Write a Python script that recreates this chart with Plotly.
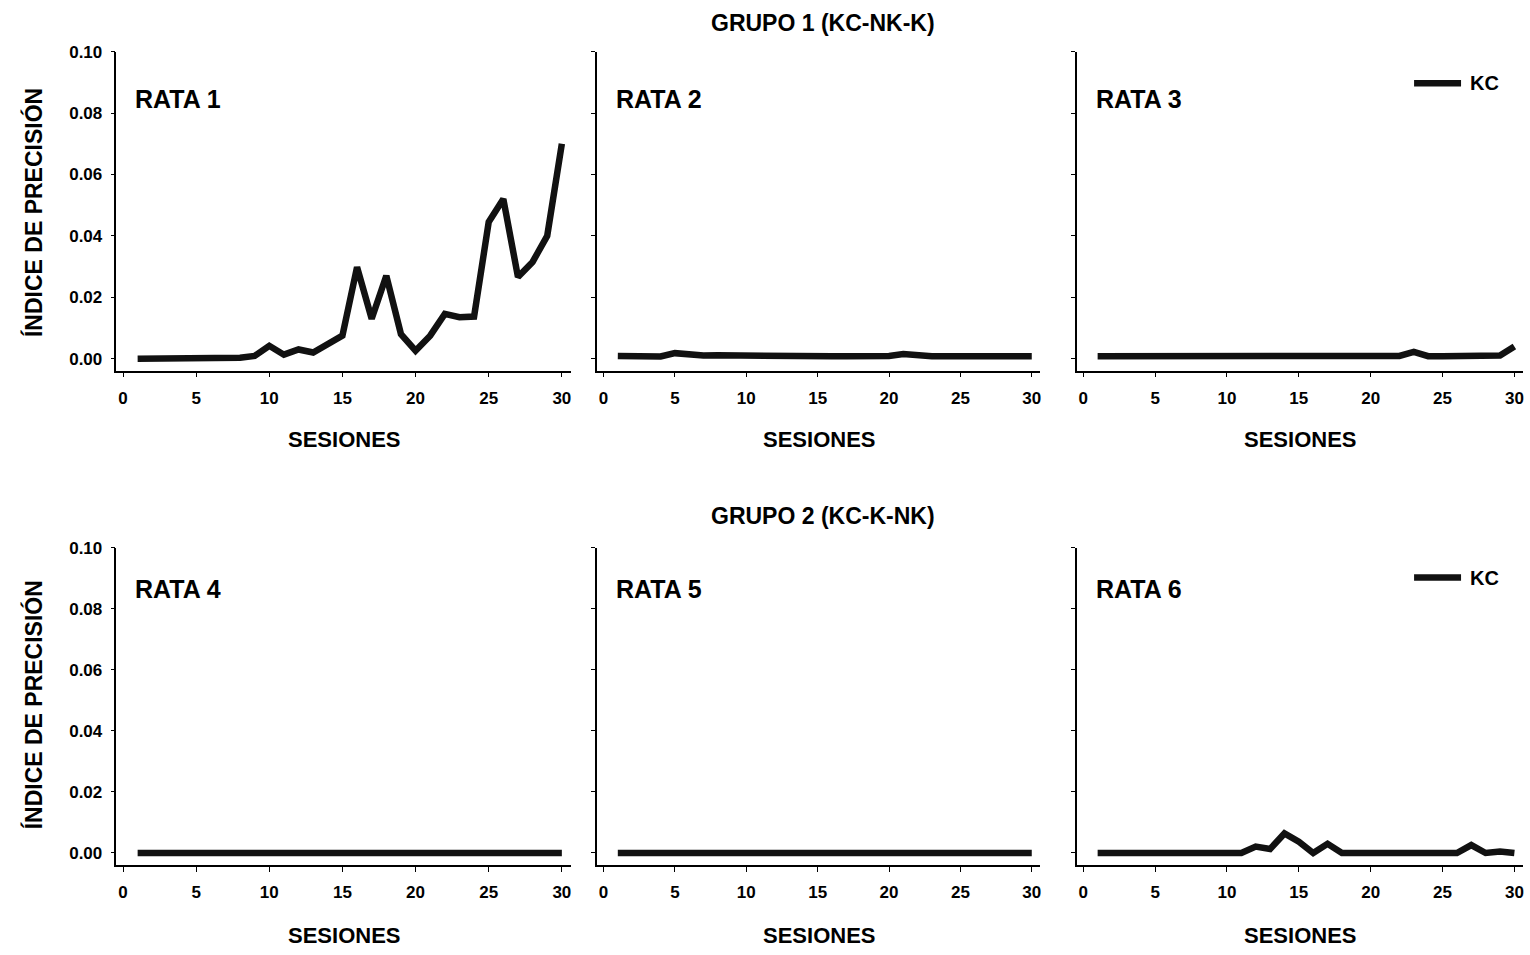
import plotly.graph_objects as go

# Sessions and accuracy index per rat
sesiones = list(range(1, 31))

rata1 = [0.0, 0.0, 0.0, 0.0, 0.0, 0.0, 0.0, 0.0003, 0.0009, 0.0042,
         0.0013, 0.0030, 0.0020, 0.0050, 0.0075, 0.0298, 0.0130, 0.0270, 0.0080, 0.0026,
         0.0075, 0.0146, 0.0135, 0.0137, 0.0445, 0.0520, 0.0266, 0.0315, 0.0400, 0.0700]
rata2 = [0.0009, 0.0009, 0.0008, 0.0007, 0.0018, 0.0012, 0.0010, 0.0011, 0.0010, 0.0009,
         0.0008, 0.0008, 0.0008, 0.0008, 0.0008, 0.0008, 0.0008, 0.0008, 0.0008, 0.0009,
         0.0015, 0.0010, 0.0008, 0.0008, 0.0008, 0.0008, 0.0008, 0.0008, 0.0008, 0.0008]
rata3 = [0.0008, 0.0008, 0.0008, 0.0008, 0.0008, 0.0008, 0.0008, 0.0008, 0.0008, 0.0008,
         0.0008, 0.0008, 0.0008, 0.0008, 0.0008, 0.0008, 0.0008, 0.0009, 0.0009, 0.0011,
         0.0009, 0.0009, 0.0022, 0.0008, 0.0008, 0.0009, 0.0010, 0.0010, 0.0010, 0.0040]
rata4 = [0.0, 0.0, 0.0, 0.0, 0.0, 0.0, 0.0, 0.0, 0.0001, 0.0001,
         0.0001, 0.0001, 0.0, 0.0, 0.0, 0.0001, 0.0, 0.0, 0.0, 0.0,
         0.0, 0.0, 0.0, 0.0, 0.0005, 0.0002, 0.0001, 0.0001, 0.0001, 0.0]
rata5 = [0.0, 0.0, 0.0, 0.0, 0.0, 0.0, 0.0, 0.0, 0.0, 0.0001,
         0.0001, 0.0, 0.0, 0.0, 0.0, 0.0, 0.0, 0.0, 0.0, 0.0,
         0.0, 0.0, 0.0, 0.0, 0.0, 0.0, 0.0, 0.0, 0.0, 0.0]
rata6 = [0.0, 0.0, 0.0, 0.0, 0.0, 0.0, 0.0, 0.0, 0.0, 0.0,
         0.0, 0.0021, 0.0013, 0.0064, 0.0037, 0.0, 0.0030, 0.0, 0.0, 0.0,
         0.0, 0.0, 0.0, 0.0, 0.0, 0.0, 0.0026, 0.0, 0.0005, 0.0]

series = [rata1, rata2, rata3, rata4, rata5, rata6]
rat_names = ["RATA 1", "RATA 2", "RATA 3", "RATA 4", "RATA 5", "RATA 6"]
group_titles = ["GRUPO 1 (KC-NK-K)", "GRUPO 2 (KC-K-NK)"]
x_ticks = [0, 5, 10, 15, 20, 25, 30]
y_ticks = [0.0, 0.02, 0.04, 0.06, 0.08, 0.10]
y_tick_text = ["0.00", "0.02", "0.04", "0.06", "0.08", "0.10"]
legend_name = "KC"
x_title = "SESIONES"
y_title = "ÍNDICE DE PRECISIÓN"

W, H = 1530, 955
FONT = "Liberation Sans, Arial, sans-serif"
LINE = "#111111"
LINE_W = 6.5
Y_MIN = -0.0039

# column pixel extents (left, right)
cols = [(116.5, 571), (597.5, 1041), (1077.5, 1524)]
# row pixel positions of the 0.10 and 0.00 gridlines
rows = [(43, 353), (544, 852)]
# pixel positions of the free texts per row
group_y = [14, 512]
rat_y = [91, 586]
xtitle_y = [435, 935]
ytitle_y = [205, 702]
legend_y = [75, 574]


def py(v):
    return 1 - v / H


fig = go.Figure()
layout = {}
annotations = []
shapes = []

for i, vals in enumerate(series):
    r, c = divmod(i, 3)
    n = i + 1
    xa = "xaxis" if n == 1 else f"xaxis{n}"
    ya = "yaxis" if n == 1 else f"yaxis{n}"
    xref = "x" if n == 1 else f"x{n}"
    yref = "y" if n == 1 else f"y{n}"
    x0, x1 = cols[c]
    top, zero = rows[r]
    bot = zero + (zero - top) * (-Y_MIN) / 0.1
    fig.add_trace(go.Scatter(x=sesiones, y=vals, mode="lines",
                             line=dict(color=LINE, width=LINE_W),
                             xaxis=xref, yaxis=yref, showlegend=False,
                             name=legend_name))
    layout[xa] = dict(domain=[x0 / W, x1 / W], range=[-0.45, 30.6],
                      anchor=yref, tickvals=x_ticks,
                      ticks="outside", ticklen=5, tickwidth=1, tickcolor="black",
                      ticklabelstandoff=6,
                      showline=True, linecolor="black", linewidth=1.5,
                      showgrid=False, zeroline=False,
                      tickfont=dict(family=FONT, size=17, color="black", weight="bold"))
    layout[ya] = dict(domain=[py(bot), py(top)], range=[Y_MIN, 0.1],
                      anchor=xref, tickvals=y_ticks,
                      ticktext=y_tick_text if c == 0 else ["" for _ in y_ticks],
                      ticks="outside", ticklen=4, tickwidth=1, tickcolor="black",
                      ticklabelstandoff=5,
                      showline=True, linecolor="black", linewidth=1.5,
                      showgrid=False, zeroline=False,
                      tickfont=dict(family=FONT, size=17, color="black", weight="bold"))
    # axis titles
    annotations.append(dict(text=x_title, xref="paper", yref="paper",
                            x=(x0 + x1) / 2 / W, y=py(xtitle_y[r]),
                            xanchor="center", yanchor="middle", showarrow=False,
                            font=dict(family=FONT, size=22, color="black", weight="bold")))
    if c == 0:
        annotations.append(dict(text=y_title, xref="paper", yref="paper",
                                x=33 / W, y=py(ytitle_y[r]), textangle=-90,
                                xanchor="center", yanchor="middle", showarrow=False,
                                font=dict(family=FONT, size=23, color="black", weight="bold")))
    annotations.append(dict(text=rat_names[i], xref="paper", yref="paper",
                            x=(x0 + 17) / W, y=py(rat_y[r]),
                            xanchor="left", yanchor="middle", showarrow=False,
                            font=dict(family=FONT, size=25, color="black", weight="bold")))

# group headings
for r, t in enumerate(group_titles):
    annotations.append(dict(text=t, xref="paper", yref="paper",
                            x=824 / W, y=py(group_y[r]),
                            xanchor="center", yanchor="middle", showarrow=False,
                            font=dict(family=FONT, size=23, color="black", weight="bold")))

# legend keys in the right-hand panels
for ly in legend_y:
    shapes.append(dict(type="line", xref="paper", yref="paper",
                       x0=1415 / W, x1=1462 / W, y0=py(ly), y1=py(ly),
                       line=dict(color=LINE, width=LINE_W)))
    annotations.append(dict(text=legend_name, xref="paper", yref="paper",
                            x=1469 / W, y=py(ly), xanchor="left", yanchor="middle",
                            showarrow=False,
                            font=dict(family=FONT, size=20, color="black", weight="bold")))

fig.update_layout(width=W, height=H, margin=dict(l=0, r=0, t=0, b=0),
                  plot_bgcolor="white", paper_bgcolor="white",
                  annotations=annotations, shapes=shapes, showlegend=False,
                  **layout)

fig.write_html("out.html")
